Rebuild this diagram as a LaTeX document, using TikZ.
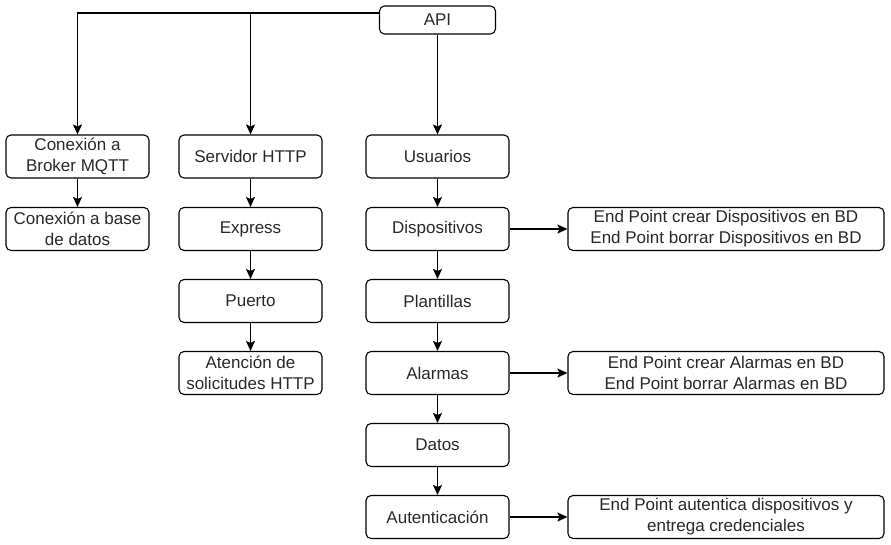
\documentclass[tikz,border=0pt]{standalone}
\usepackage{fontspec}
\setmainfont{Liberation Sans}
\usetikzlibrary{arrows.meta}
\definecolor{textogris}{RGB}{40,40,40}
\tikzset{
	caja/.style={draw, rounded corners=5pt, line width=1.1pt,
		minimum width=143pt, minimum height=43pt, inner sep=2pt,
		align=center, text=textogris, font=\fontsize{17}{21}\selectfont},
	cajaep/.style={caja, minimum width=316pt},
	flecha/.style={-{Stealth[length=10pt,width=9pt,inset=2pt]}, line width=1.1pt},
}
\begin{document}
\begin{tikzpicture}[x=1pt,y=-1pt]
\useasboundingbox (0,0) rectangle (891,544);
\node[caja, minimum width=116pt, minimum height=28pt] (api) at (437.5,20) {API};
% columna izquierda
\foreach \Nombre/\Yc/\Texto in
{con_mqtt/156.5/{Conexión a\\Broker MQTT}, con_bd/229/{Conexión a base\\de datos}}
{
	\node[caja] (\Nombre) at (77.5,\Yc) {\Texto};
}
% columna del servidor
\foreach \Nombre/\Yc/\Texto in
{servidor/156.5/Servidor HTTP, express/229/Express, puerto/301/Puerto,
 atencion/373/{Atención de\\solicitudes HTTP}}
{
	\node[caja] (\Nombre) at (250.5,\Yc) {\Texto};
}
% columna de la API
\foreach \Nombre/\Yc/\Texto in
{usuarios/156.5/Usuarios, dispositivos/229/Dispositivos, plantillas/301/Plantillas,
 alarmas/373/Alarmas, datos/445/Datos, autenticacion/517/Autenticación}
{
	\node[caja] (\Nombre) at (437.5,\Yc) {\Texto};
}
% end points
\foreach \Nombre/\Yc/\Texto in
{ep_disp/229/{End Point crear Dispositivos en BD\\End Point borrar Dispositivos en BD},
 ep_alar/373/{End Point crear Alarmas en BD\\End Point borrar Alarmas en BD},
 ep_aut/517/{End Point autentica dispositivos y\\entrega credenciales}}
{
	\node[cajaep] (\Nombre) at (726,\Yc) {\Texto};
}
\draw[flecha] ([yshift=7pt]api.west) -| (con_mqtt);
\draw[flecha] ([yshift=7pt]api.west) -| (servidor);
\draw[flecha] (api) -- (usuarios);
\foreach \De/\A in
{con_mqtt/con_bd, servidor/express, express/puerto, puerto/atencion,
 usuarios/dispositivos, dispositivos/plantillas, plantillas/alarmas,
 alarmas/datos, datos/autenticacion,
 dispositivos/ep_disp, alarmas/ep_alar, autenticacion/ep_aut}
{
	\draw[flecha] (\De) -- (\A);
}
\end{tikzpicture}
\end{document}
